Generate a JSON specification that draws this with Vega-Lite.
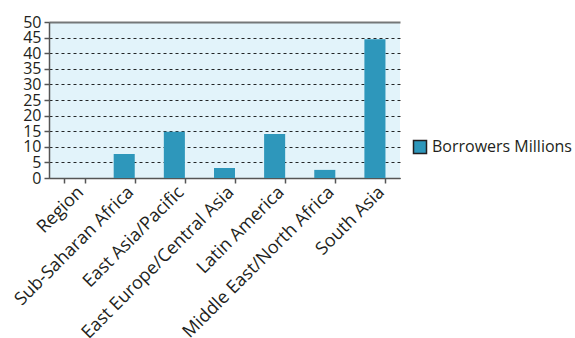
{
  "$schema": "https://vega.github.io/schema/vega-lite/v6.json",
  "width": 351,
  "height": 156,
  "autosize": "none",
  "padding": {"left": 49, "top": 22, "right": 175, "bottom": 160},
  "background": "white",
  "config": {
    "font": "Open Sans",
    "view": {"fill": "#e2f3fa", "stroke": null},
    "axis": {"labelFont": "Open Sans", "labelColor": "#231f20", "labelFontSize": 16, "domainColor": "#555555", "tickColor": "#555555", "domainWidth": 1.5, "tickWidth": 1.5}
  },
  "data": {
    "values": [
      {"region": "Region", "borrowers": 0, "series": "Borrowers Millions"},
      {"region": "Sub-Saharan Africa", "borrowers": 7.7, "series": "Borrowers Millions"},
      {"region": "East Asia/Pacific", "borrowers": 14.8, "series": "Borrowers Millions"},
      {"region": "East Europe/Central Asia", "borrowers": 3.2, "series": "Borrowers Millions"},
      {"region": "Latin America", "borrowers": 14.1, "series": "Borrowers Millions"},
      {"region": "Middle East/North Africa", "borrowers": 2.6, "series": "Borrowers Millions"},
      {"region": "South Asia", "borrowers": 44.5, "series": "Borrowers Millions"}
    ]
  },
  "mark": {"type": "bar"},
  "encoding": {
    "x": {
      "field": "region", "type": "nominal", "sort": null,
      "scale": {"paddingInner": 0.58, "paddingOuter": 0.29},
      "axis": {"title": null, "labelAngle": -45, "tickBand": "extent", "tickSize": 5, "labelPadding": 0, "grid": false, "labelOverlap": false, "labelLimit": 0, "labelFontSize": 18}
    },
    "y": {
      "field": "borrowers", "type": "quantitative",
      "scale": {"domain": [0, 50], "nice": false},
      "axis": {
        "title": null, "values": [0, 5, 10, 15, 20, 25, 30, 35, 40, 45, 50],
        "labelOverlap": false, "labelFlush": false, "tickSize": 5, "labelPadding": 3, "labelFontSize": 16,
        "grid": true,
        "gridColor": {"condition": {"test": "datum.value === 50", "value": "#606060"}, "value": "#000000"},
        "gridWidth": {"condition": {"test": "datum.value === 50", "value": 2}, "value": 1},
        "gridDash": {"condition": {"test": "datum.value === 50", "value": []}, "value": [3, 3]},
        "gridOpacity": 0.85
      }
    },
    "color": {
      "field": "series", "type": "nominal",
      "scale": {"range": ["#2e97bb"]},
      "legend": {"title": null, "orient": "none", "legendX": 363, "legendY": 117, "symbolType": "square", "symbolSize": 169, "symbolStrokeColor": "#231f20", "symbolStrokeWidth": 1.5, "labelFont": "Open Sans", "labelFontSize": 16, "labelColor": "#231f20", "labelOffset": 4}
    }
  }
}
